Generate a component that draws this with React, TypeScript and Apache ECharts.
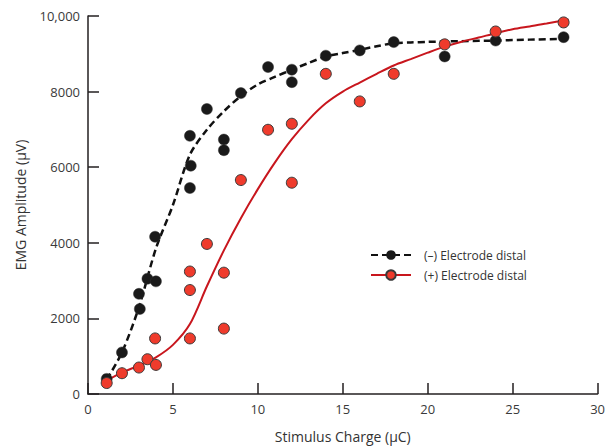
import React, { useEffect, useRef } from "react";
import * as echarts from "echarts";

const seriesNames = ["(–) Electrode distal", "(+) Electrode distal"];
const xAxisTitle = "Stimulus Charge (μC)";
const yAxisTitle = "EMG Amplitude (μV)";

// measured points: [stimulus charge, amplitude]
const negPoints: [number, number][] = [
  [1.1, 400], [2.0, 1100], [3.0, 2650], [3.05, 2250], [3.5, 3050], [4.0, 2980],
  [3.95, 4160], [6.0, 6830], [6.05, 6040], [6.0, 5450], [7.0, 7540], [8.0, 6730],
  [8.0, 6450], [9.0, 7960], [10.6, 8650], [12.0, 8580], [12.0, 8250], [14.0, 8950],
  [16.0, 9090], [18.0, 9310], [21.0, 8930], [24.0, 9350], [28.0, 9440],
];
const posPoints: [number, number][] = [
  [1.1, 290], [2.0, 550], [3.0, 700], [3.5, 920], [4.0, 770], [3.95, 1470],
  [6.0, 3240], [6.0, 2750], [6.0, 1470], [7.0, 3970], [8.0, 3210], [8.0, 1730],
  [9.0, 5660], [10.6, 6990], [12.0, 7150], [12.0, 5590], [14.0, 8470], [16.0, 7740],
  [18.0, 8470], [21.0, 9250], [24.0, 9590], [28.0, 9830],
];

// fitted curves
const negCurve: [number, number][] = [
  [1.1, 380], [2, 1100], [3, 2300], [4, 3850], [5, 5000], [6, 6330], [7, 6990],
  [8, 7480], [9, 7880], [10, 8190], [11, 8390], [12, 8580], [13, 8760], [14, 8930],
  [15, 9020], [16, 9105], [17, 9200], [18, 9280], [19, 9300], [20, 9315], [22, 9335],
  [24, 9350], [26, 9375], [28.3, 9400],
];
const posCurve: [number, number][] = [
  [1.1, 350], [2, 570], [3, 750], [4, 970], [5, 1300], [6, 1850], [7, 2850],
  [8, 3800], [9, 4650], [10, 5420], [11, 6120], [12, 6740], [13, 7260], [14, 7690],
  [15, 8000], [16, 8240], [17, 8470], [18, 8690], [19, 8860], [20, 9030], [21, 9190],
  [22, 9320], [23, 9430], [24, 9545], [25, 9650], [26, 9725], [27, 9800], [28.3, 9910],
];

const xMin = 0, xMax = 30, xStep = 5;
const yMin = 0, yMax = 10000, yStep = 2000;

export default function App() {
  const ref = useRef<HTMLDivElement>(null);
  useEffect(() => {
    const chart = echarts.init(ref.current!, null, { renderer: "svg" });
    const font = "'Open Sans', 'Noto Sans', sans-serif";
    const axisColor = "#231f20";
    const labelColor = "#3a3a3a";
    chart.setOption({
      animation: false,
      backgroundColor: "#fff",
      grid: { left: 88, right: 10, top: 16, bottom: 53 },
      legend: {
        data: seriesNames,
        orient: "vertical",
        left: 365,
        top: 244,
        itemWidth: 40,
        itemHeight: 12,
        itemGap: 8,
        selectedMode: false,
        textStyle: { fontFamily: font, fontSize: 12, color: "#333", padding: [0, 0, 0, 8] },
      },
      xAxis: {
        type: "value",
        min: xMin,
        max: xMax,
        interval: xStep,
        name: xAxisTitle,
        nameLocation: "middle",
        nameGap: 35,
        nameTextStyle: { fontFamily: font, fontSize: 14, color: "#333" },
        axisLine: { lineStyle: { color: axisColor, width: 1.5 } },
        axisTick: { inside: true, length: 11, lineStyle: { color: axisColor, width: 1.5 } },
        axisLabel: { fontFamily: font, fontSize: 13, color: labelColor, margin: 8 },
        splitLine: { show: false },
      },
      yAxis: {
        type: "value",
        min: yMin,
        max: yMax,
        interval: yStep,
        name: yAxisTitle,
        nameLocation: "middle",
        nameGap: 61,
        nameTextStyle: { fontFamily: font, fontSize: 14, color: "#333" },
        axisLine: { show: true, lineStyle: { color: axisColor, width: 1.5 } },
        axisTick: { show: true, inside: true, length: 11, lineStyle: { color: axisColor, width: 1.5 } },
        axisLabel: {
          fontFamily: font,
          fontSize: 13,
          color: labelColor,
          margin: 8,
          formatter: (v: number) => (v >= 10000 ? v.toLocaleString("en-US") : String(v)),
        },
        splitLine: { show: false },
      },
      series: [
        {
          name: seriesNames[0],
          type: "line",
          data: negCurve,
          smooth: 0.3,
          symbol: "circle",
          showSymbol: false,
          itemStyle: { color: "#1a1a1a" },
          lineStyle: { color: "#111", width: 2.5, type: [7, 4] },
          silent: true,
          z: 2,
        },
        {
          name: seriesNames[1],
          type: "line",
          data: posCurve,
          smooth: 0.3,
          symbol: "circle",
          showSymbol: false,
          itemStyle: { color: "#ef3b2c", borderColor: "#3a3a3a", borderWidth: 1 },
          lineStyle: { color: "#c8161d", width: 2 },
          silent: true,
          z: 2,
        },
        {
          name: seriesNames[0],
          type: "scatter",
          data: negPoints,
          symbol: "circle",
          symbolSize: 11,
          itemStyle: { color: "#1a1a1a", borderColor: "#333", borderWidth: 0.5, opacity: 1 },
          z: 3,
        },
        {
          name: seriesNames[1],
          type: "scatter",
          data: posPoints,
          symbol: "circle",
          symbolSize: 11,
          itemStyle: { color: "#ef3b2c", borderColor: "#3a3a3a", borderWidth: 1, opacity: 1 },
          z: 4,
        },
      ],
    });
    return () => chart.dispose();
  }, []);
  return (
    <div
      ref={ref}
      style={{ position: "fixed", left: 0, top: 0, width: 608, height: 448, background: "#fff" }}
    />
  );
}
